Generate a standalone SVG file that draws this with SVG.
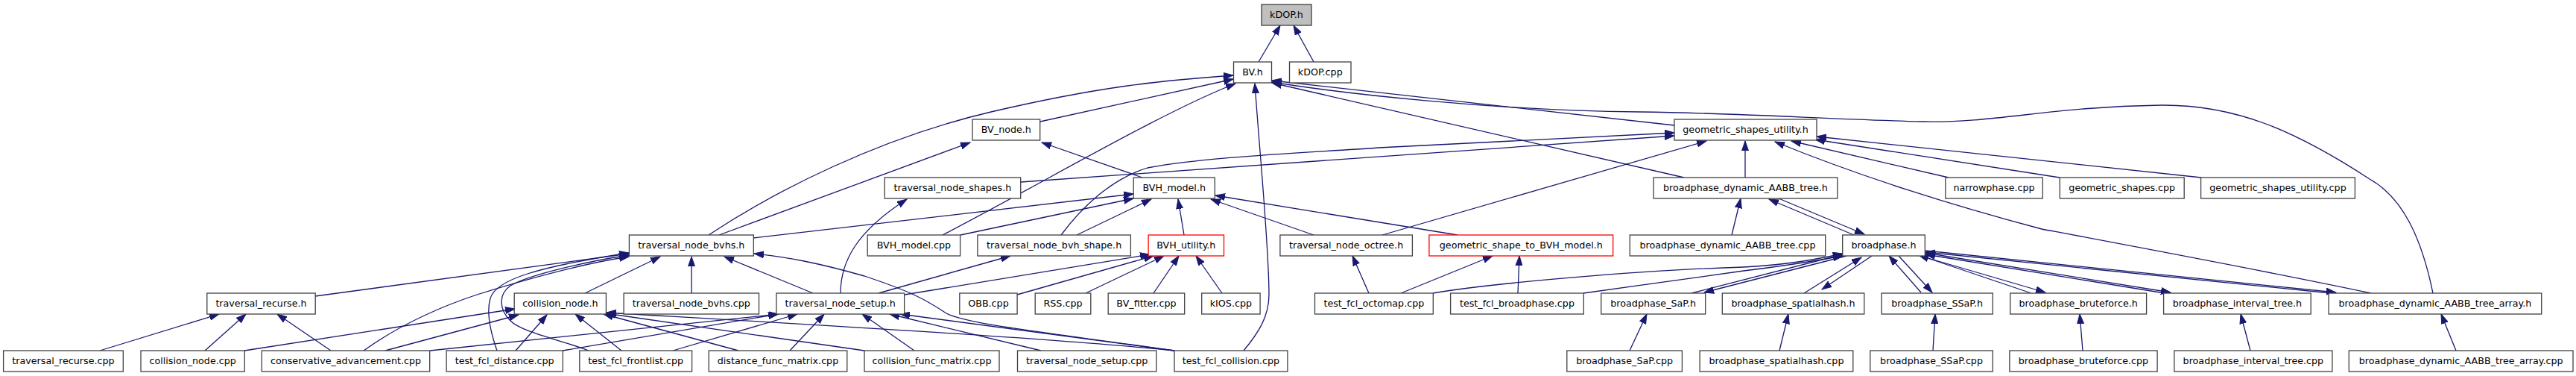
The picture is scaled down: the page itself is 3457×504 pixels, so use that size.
<svg xmlns="http://www.w3.org/2000/svg" width="3457" height="504" viewBox="0 0 3457 504">
<style>
.n rect{fill:#ffffff;stroke:#404040;stroke-width:1.3}
.n.r rect{stroke:#ff0000}
.n.g rect{fill:#bfbfbf}
.n text{font-family:"DejaVu Sans",sans-serif;font-size:12.7px;fill:#000000;text-anchor:middle}
.e path{fill:none;stroke:#191970;stroke-width:1.3;marker-end:url(#a)}
</style>
<defs>
<marker id="a" markerUnits="userSpaceOnUse" markerWidth="14" markerHeight="10" refX="13" refY="5" orient="auto">
<path d="M0,0.5 L13,5 L0,9.5 z" fill="#191970" stroke="#191970" stroke-width="1"/>
</marker>
</defs>
<rect width="3457" height="504" fill="#ffffff"/>
<g id="edges" class="e">
<path d="M1689,83 L1718,34"/>
<path d="M1763,83 L1736,34"/>
<path d="M1396,163 L1655,106"/>
<path d="M951,315 C1040,256 1180,185 1330,150 S1560,108 1655,101"/>
<path d="M1265,315 C1400,245 1560,150 1658,112"/>
<path d="M1669,470 C1688,447 1703,425 1703,395 C1703,330 1690,200 1684,112"/>
<path d="M2247,168 L1707,108"/>
<path d="M2260,238 L1707,111"/>
<path d="M3265,393 C3250,320 3225,265 3180,240 C3080,175 3000,140 2900,141 C2750,143 2680,165 2580,163 C2450,160 2350,152 2200,150 C2000,148 1800,125 1707,110"/>
<path d="M965,315 L1302,191"/>
<path d="M1533,238 L1398,191"/>
<path d="M1370,244 L2247,182"/>
<path d="M1424,315 C1450,280 1490,240 1540,225 C1620,210 1750,205 1850,198 L2247,178"/>
<path d="M1855,315 L2290,189"/>
<path d="M2342,238 L2342,189"/>
<path d="M2615,238 L2404,189"/>
<path d="M2764,238 L2436,187"/>
<path d="M2954,238 L2438,183"/>
<path d="M3182,393 C3050,365 2900,337 2740,307 C2600,270 2480,230 2382,190"/>
<path d="M1011,319 L1521,260"/>
<path d="M1289,315 L1521,266"/>
<path d="M1445,315 L1545,267"/>
<path d="M1589,315 L1581,267"/>
<path d="M1763,315 L1625,267"/>
<path d="M1956,315 L1631,262"/>
<path d="M1128,393 C1128,350 1150,310 1217,267"/>
<path d="M785,393 L886,344"/>
<path d="M928,393 L928,344"/>
<path d="M1091,393 L972,344"/>
<path d="M1576,470 C1400,445 1300,435 1270,420 C1240,400 1220,390 1160,370 C1100,353 1060,345 1012,340"/>
<path d="M423,397 L844,340"/>
<path d="M488,470 C530,440 580,415 640,395 C720,370 790,352 844,344"/>
<path d="M667,470 C660,450 652,420 658,400 C665,375 720,358 844,339"/>
<path d="M790,470 C750,455 700,445 685,430 C670,415 668,395 685,383 C710,368 790,350 844,342"/>
<path d="M328,470 L691,414"/>
<path d="M517,470 L696,422"/>
<path d="M577,470 L1045,421"/>
<path d="M134,470 L294,421"/>
<path d="M275,470 L330,421"/>
<path d="M444,470 L372,421"/>
<path d="M692,470 L734,422"/>
<path d="M834,470 L772,421"/>
<path d="M991,470 L810,421"/>
<path d="M1160,470 L813,420"/>
<path d="M1576,470 C1400,452 1000,430 814,419"/>
<path d="M755,470 L1044,421"/>
<path d="M903,470 L1070,421"/>
<path d="M1060,470 L1106,421"/>
<path d="M1227,470 L1157,421"/>
<path d="M1397,470 L1194,421"/>
<path d="M1576,470 L1208,421"/>
<path d="M1179,393 L1356,343"/>
<path d="M1214,395 L1543,341"/>
<path d="M1365,395 L1548,343"/>
<path d="M1457,393 L1562,343"/>
<path d="M1548,393 L1582,343"/>
<path d="M1640,393 L1605,343"/>
<path d="M1837,393 L1815,343"/>
<path d="M1880,393 L2003,343"/>
<path d="M2037,393 L2039,343"/>
<path d="M1923,393 C2000,380 2200,362 2340,358 C2400,355 2440,347 2473,340"/>
<path d="M2125,393 C2200,383 2300,368 2340,363 C2400,356 2440,349 2473,343"/>
<path d="M2270,393 L2473,341"/>
<path d="M2478,343 L2287,392"/>
<path d="M2421,393 L2498,345"/>
<path d="M2512,343 L2445,388"/>
<path d="M2578,392 L2535,343"/>
<path d="M2548,343 L2593,392"/>
<path d="M2726,393 L2575,342"/>
<path d="M2584,345 L2745,392"/>
<path d="M2905,393 L2584,341"/>
<path d="M2584,339 L2913,392"/>
<path d="M3128,393 L2584,338"/>
<path d="M2584,336 L3135,392"/>
<path d="M2488,315 L2374,267"/>
<path d="M2387,266 L2502,314"/>
<path d="M2324,315 L2336,266"/>
<path d="M2187,470 L2210,421"/>
<path d="M2388,470 L2400,421"/>
<path d="M2594,470 L2597,421"/>
<path d="M2795,470 L2791,421"/>
<path d="M3020,470 L3007,421"/>
<path d="M3296,470 L3276,421"/>
</g>
<g id="n_kDOP_h" class="n g"><rect x="1693" y="6" width="67" height="28"/><text x="1726.5" y="23.5">kDOP.h</text></g>
<g id="n_BV_h" class="n"><rect x="1655.5" y="83" width="51" height="28"/><text x="1681" y="100.5">BV.h</text></g>
<g id="n_kDOP_cpp" class="n"><rect x="1730.5" y="83" width="82.5" height="28"/><text x="1771.75" y="100.5">kDOP.cpp</text></g>
<g id="n_BV_node_h" class="n"><rect x="1305" y="160" width="90.7" height="28"/><text x="1350.35" y="177.5">BV_node.h</text></g>
<g id="n_geometric_shapes_utility_h" class="n"><rect x="2247" y="160" width="191" height="28"/><text x="2342.5" y="177.5">geometric_shapes_utility.h</text></g>
<g id="n_traversal_node_shapes_h" class="n"><rect x="1187.2" y="238" width="182.5" height="28"/><text x="1278.45" y="255.5">traversal_node_shapes.h</text></g>
<g id="n_BVH_model_h" class="n"><rect x="1521.2" y="238" width="109.1" height="28"/><text x="1575.75" y="255.5">BVH_model.h</text></g>
<g id="n_broadphase_dynamic_AABB_tree_h" class="n"><rect x="2219.1" y="238" width="246.7" height="28"/><text x="2342.45" y="255.5">broadphase_dynamic_AABB_tree.h</text></g>
<g id="n_narrowphase_cpp" class="n"><rect x="2610.8" y="238" width="130.5" height="28"/><text x="2676.05" y="255.5">narrowphase.cpp</text></g>
<g id="n_geometric_shapes_cpp" class="n"><rect x="2764.3" y="238" width="166.9" height="28"/><text x="2847.75" y="255.5">geometric_shapes.cpp</text></g>
<g id="n_geometric_shapes_utility_cpp" class="n"><rect x="2953.6" y="238" width="206.8" height="28"/><text x="3057" y="255.5">geometric_shapes_utility.cpp</text></g>
<g id="n_traversal_node_bvhs_h" class="n"><rect x="844.4" y="315" width="166.9" height="28"/><text x="927.85" y="332.5">traversal_node_bvhs.h</text></g>
<g id="n_BVH_model_cpp" class="n"><rect x="1164.2" y="315" width="124.4" height="28"/><text x="1226.4" y="332.5">BVH_model.cpp</text></g>
<g id="n_traversal_node_bvh_shape_h" class="n"><rect x="1311.9" y="315" width="205.5" height="28"/><text x="1414.65" y="332.5">traversal_node_bvh_shape.h</text></g>
<g id="n_BVH_utility_h" class="n r"><rect x="1541.1" y="315" width="101.4" height="28"/><text x="1591.8" y="332.5">BVH_utility.h</text></g>
<g id="n_traversal_node_octree_h" class="n"><rect x="1717.9" y="315" width="177.5" height="28"/><text x="1806.65" y="332.5">traversal_node_octree.h</text></g>
<g id="n_geometric_shape_to_BVH_model_h" class="n r"><rect x="1917.9" y="315" width="246.8" height="28"/><text x="2041.3" y="332.5">geometric_shape_to_BVH_model.h</text></g>
<g id="n_broadphase_dynamic_AABB_tree_cpp" class="n"><rect x="2187.3" y="315" width="262.4" height="28"/><text x="2318.5" y="332.5">broadphase_dynamic_AABB_tree.cpp</text></g>
<g id="n_broadphase_h" class="n"><rect x="2472.7" y="315" width="110.6" height="28"/><text x="2528" y="332.5">broadphase.h</text></g>
<g id="n_traversal_recurse_h" class="n"><rect x="277.8" y="393" width="145.4" height="28"/><text x="350.5" y="410.5">traversal_recurse.h</text></g>
<g id="n_collision_node_h" class="n"><rect x="690.2" y="393" width="123.2" height="28"/><text x="751.8" y="410.5">collision_node.h</text></g>
<g id="n_traversal_node_bvhs_cpp" class="n"><rect x="837.1" y="393" width="181.4" height="28"/><text x="927.8" y="410.5">traversal_node_bvhs.cpp</text></g>
<g id="n_traversal_node_setup_h" class="n"><rect x="1041.9" y="393" width="171.7" height="28"/><text x="1127.75" y="410.5">traversal_node_setup.h</text></g>
<g id="n_OBB_cpp" class="n"><rect x="1287.8" y="393" width="77.3" height="28"/><text x="1326.45" y="410.5">OBB.cpp</text></g>
<g id="n_RSS_cpp" class="n"><rect x="1389.2" y="393" width="74.6" height="28"/><text x="1426.5" y="410.5">RSS.cpp</text></g>
<g id="n_BV_fitter_cpp" class="n"><rect x="1487.2" y="393" width="102.5" height="28"/><text x="1538.45" y="410.5">BV_fitter.cpp</text></g>
<g id="n_kIOS_cpp" class="n"><rect x="1612.7" y="393" width="78.4" height="28"/><text x="1651.9" y="410.5">kIOS.cpp</text></g>
<g id="n_test_fcl_octomap_cpp" class="n"><rect x="1764.5" y="393" width="158.8" height="28"/><text x="1843.9" y="410.5">test_fcl_octomap.cpp</text></g>
<g id="n_test_fcl_broadphase_cpp" class="n"><rect x="1946.6" y="393" width="178.7" height="28"/><text x="2035.95" y="410.5">test_fcl_broadphase.cpp</text></g>
<g id="n_broadphase_SaP_h" class="n"><rect x="2148.7" y="393" width="140" height="28"/><text x="2218.7" y="410.5">broadphase_SaP.h</text></g>
<g id="n_broadphase_spatialhash_h" class="n"><rect x="2311.3" y="393" width="190.5" height="28"/><text x="2406.55" y="410.5">broadphase_spatialhash.h</text></g>
<g id="n_broadphase_SSaP_h" class="n"><rect x="2525.1" y="393" width="149.2" height="28"/><text x="2599.7" y="410.5">broadphase_SSaP.h</text></g>
<g id="n_broadphase_bruteforce_h" class="n"><rect x="2697.7" y="393" width="182.9" height="28"/><text x="2789.15" y="410.5">broadphase_bruteforce.h</text></g>
<g id="n_broadphase_interval_tree_h" class="n"><rect x="2903.6" y="393" width="197.6" height="28"/><text x="3002.4" y="410.5">broadphase_interval_tree.h</text></g>
<g id="n_broadphase_dynamic_AABB_tree_array_h" class="n"><rect x="3125.1" y="393" width="285.6" height="28"/><text x="3267.9" y="410.5">broadphase_dynamic_AABB_tree_array.h</text></g>
<g id="n_traversal_recurse_cpp" class="n"><rect x="4.6" y="470" width="160.7" height="28"/><text x="84.95" y="487.5">traversal_recurse.cpp</text></g>
<g id="n_collision_node_cpp" class="n"><rect x="189" y="470" width="139.3" height="28"/><text x="258.65" y="487.5">collision_node.cpp</text></g>
<g id="n_conservative_advancement_cpp" class="n"><rect x="351.3" y="470" width="225.4" height="28"/><text x="464" y="487.5">conservative_advancement.cpp</text></g>
<g id="n_test_fcl_distance_cpp" class="n"><rect x="599.1" y="470" width="156.2" height="28"/><text x="677.2" y="487.5">test_fcl_distance.cpp</text></g>
<g id="n_test_fcl_frontlist_cpp" class="n"><rect x="777.8" y="470" width="150.8" height="28"/><text x="853.2" y="487.5">test_fcl_frontlist.cpp</text></g>
<g id="n_distance_func_matrix_cpp" class="n"><rect x="951.2" y="470" width="185.6" height="28"/><text x="1044" y="487.5">distance_func_matrix.cpp</text></g>
<g id="n_collision_func_matrix_cpp" class="n"><rect x="1160" y="470" width="181" height="28"/><text x="1250.5" y="487.5">collision_func_matrix.cpp</text></g>
<g id="n_traversal_node_setup_cpp" class="n"><rect x="1365.5" y="470" width="186.3" height="28"/><text x="1458.65" y="487.5">traversal_node_setup.cpp</text></g>
<g id="n_test_fcl_collision_cpp" class="n"><rect x="1576" y="470" width="151.9" height="28"/><text x="1651.95" y="487.5">test_fcl_collision.cpp</text></g>
<g id="n_broadphase_SaP_cpp" class="n"><rect x="2102.8" y="470" width="154.6" height="28"/><text x="2180.1" y="487.5">broadphase_SaP.cpp</text></g>
<g id="n_broadphase_spatialhash_cpp" class="n"><rect x="2281.1" y="470" width="205.7" height="28"/><text x="2383.95" y="487.5">broadphase_spatialhash.cpp</text></g>
<g id="n_broadphase_SSaP_cpp" class="n"><rect x="2509.8" y="470" width="164.5" height="28"/><text x="2592.05" y="487.5">broadphase_SSaP.cpp</text></g>
<g id="n_broadphase_bruteforce_cpp" class="n"><rect x="2696.9" y="470" width="198.2" height="28"/><text x="2796" y="487.5">broadphase_bruteforce.cpp</text></g>
<g id="n_broadphase_interval_tree_cpp" class="n"><rect x="2917.9" y="470" width="212" height="28"/><text x="3023.9" y="487.5">broadphase_interval_tree.cpp</text></g>
<g id="n_broadphase_dynamic_AABB_tree_array_cpp" class="n"><rect x="3152.3" y="470" width="300.7" height="28"/><text x="3302.65" y="487.5">broadphase_dynamic_AABB_tree_array.cpp</text></g>
</svg>
